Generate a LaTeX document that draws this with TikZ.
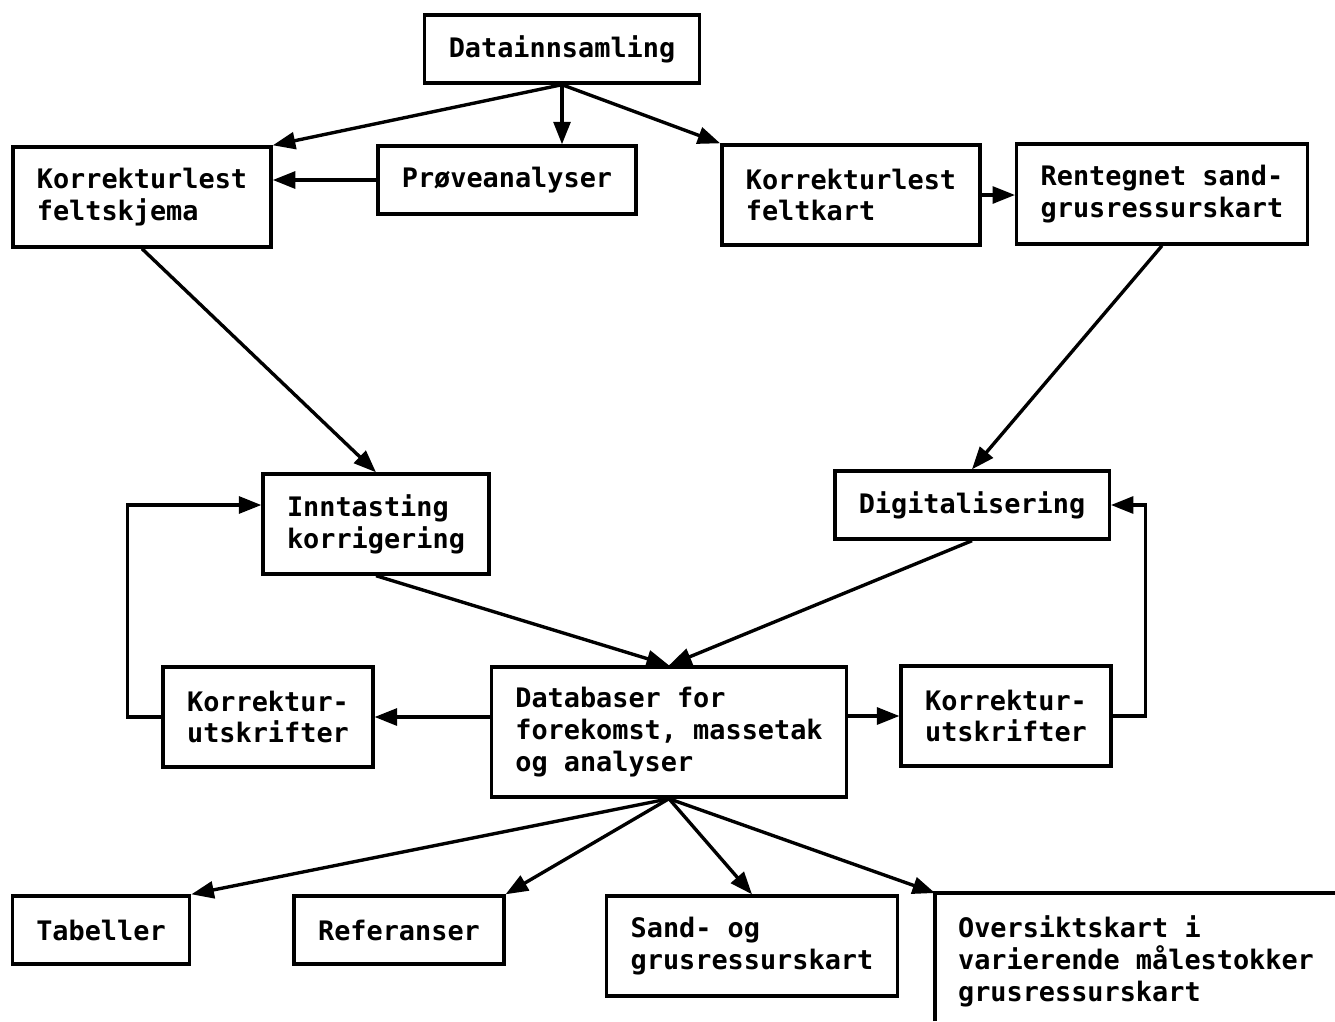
\documentclass[tikz,border=0pt]{standalone}
\usepackage{fontspec}
\setmonofont{DejaVu Sans Mono}
\usetikzlibrary{arrows.meta,calc}
\tikzset{
  box/.style={draw, line width=2.4pt, align=left, inner xsep=0.6cm, inner ysep=0pt,
    font=\ttfamily\bfseries\fontsize{19.1}{22.7}\selectfont},
  one/.style={minimum height=1.7cm},
  two/.style={minimum height=2.5cm},
  three/.style={minimum height=3.25cm},
  flow/.style={line width=2.4pt, -{Triangle[length=16pt,width=12pt]}}
}
\begin{document}
\begin{tikzpicture}[x=0.025cm, y=-0.025cm]
  \useasboundingbox (0,0) rectangle (1335,1021);
  \node[box,one] (data) at (562,49) {Datainnsamling};
  \node[box,two] (skjema) at (142,197) {Korrekturlest\\feltskjema};
  \node[box,one] (prove) at (507,180) {Prøveanalyser};
  \node[box,two] (feltkart) at (851,195) {Korrekturlest\\feltkart};
  \node[box,two] (rentegnet) at (1162,194) {Rentegnet sand-\\grusressurskart};
  \node[box,two] (inntast) at (376,524) {Inntasting\\korrigering};
  \node[box,one] (digit) at (972,505) {Digitalisering};
  \node[box,two] (korrv) at (268,717) {Korrektur-\\utskrifter};
  \node[box,three] (db) at (669,732) {Databaser for\\forekomst, massetak\\og analyser};
  \node[box,two] (korrh) at (1006,716) {Korrektur-\\utskrifter};
  \node[box,one] (tab) at (101,930) {Tabeller};
  \node[box,one] (ref) at (399,930) {Referanser};
  \node[box,two] (sand) at (752,946) {Sand- og\\grusressurskart};
  \node[box,draw=none] (oversikt) at (1136,961) {Oversiktskart i\\varierende målestokker\\grusressurskart};
  \coordinate (ovhjorne) at (935,893);
  \draw[line width=2.4pt] (935,1021) -- (ovhjorne) -- (1335,893);
  \begin{scope}[flow]
    \draw (data.south) -- (skjema.north east);
    \draw (data.south) -- (data.south |- prove.north);
    \draw (data.south) -- (feltkart.north west);
    \draw (prove.west) -- (prove.west -| skjema.east);
    \draw (feltkart.east) -- (feltkart.east -| rentegnet.west);
    \draw (skjema.south) -- (inntast.north);
    \draw (rentegnet.south) -- (digit.north);
    \draw (inntast.south) -- (db.north);
    \draw (digit.south) -- (db.north);
    \draw (korrv.east -| db.west) -- (korrv.east);
    \draw (korrv.west) -- ++(-34,0) |- ($(inntast.west)+(0,-19)$);
    \draw (korrh.west -| db.east) -- (korrh.west);
    \draw (korrh.east) -- ++(33,0) |- (digit.east);
    \draw (db.south) -- (tab.north east);
    \draw (db.south) -- (ref.north east);
    \draw (db.south) -- (sand.north);
    \draw (db.south) -- (ovhjorne);
  \end{scope}
\end{tikzpicture}
\end{document}
